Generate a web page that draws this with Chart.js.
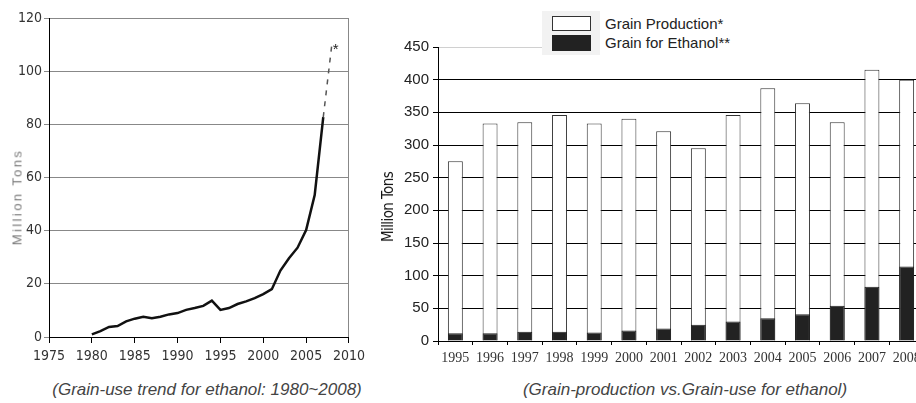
<!DOCTYPE html>
<html>
<head>
<meta charset="utf-8">
<script src="https://cdn.jsdelivr.net/npm/chart.js@4"></script>
<style>
html, body { margin: 0; padding: 0; width: 916px; height: 403px; overflow: hidden; background: #fff; }
.box { position: absolute; }
.rot { position: absolute; white-space: nowrap; transform: translate(-50%, -50%) rotate(-90deg); }
.caption { position: absolute; white-space: nowrap; transform: translate(-50%, -50%);
  font: italic 17px 'Liberation Sans', Arial, sans-serif; color: #444; }
.legend-txt { position: absolute; font: 15px 'Liberation Sans', Arial, sans-serif; color: #222; line-height: 16px; white-space: nowrap; }
</style>
</head>
<body>

<div class="box" style="left:0;top:0;width:370px;height:380px;"><canvas id="trendChart"></canvas></div>
<div class="box" style="left:370px;top:0;width:560px;height:380px;"><canvas id="barChart"></canvas></div>

<!-- axis titles -->
<div class="rot" style="left:17px;top:197px;font:13px 'Liberation Sans',Arial,sans-serif;letter-spacing:2.4px;color:#777;">Million Tons</div>
<div class="rot" style="left:388px;top:207px;font:15px 'DejaVu Sans Condensed','Liberation Sans',Arial,sans-serif;letter-spacing:-0.6px;color:#111;">Million Tons</div>

<!-- legend (right chart) -->
<div class="box" style="left:542px;top:11px;width:58px;height:44px;background:#f2f2f2;"></div>
<div class="box" style="left:600px;top:11px;width:316px;height:44px;background:#fff;"></div>
<div class="box" style="left:552px;top:16px;width:37px;height:13px;background:#fff;border:1px solid #333;"></div>
<div class="box" style="left:552px;top:35px;width:39px;height:16px;background:#222;"></div>
<div class="legend-txt" style="left:605px;top:16px;">Grain Production*</div>
<div class="legend-txt" style="left:605px;top:35px;">Grain for Ethanol**</div>

<div class="caption" style="left:207px;top:390px;">(Grain-use trend for ethanol: 1980~2008)</div>
<div class="caption" style="left:685px;top:390px;">(Grain-production vs.Grain-use for ethanol)</div>

<script>
// ─── Data ────────────────────────────────────────────────────
const trendYears = [1980, 1981, 1982, 1983, 1984, 1985, 1986, 1987, 1988, 1989,
  1990, 1991, 1992, 1993, 1994, 1995, 1996, 1997, 1998, 1999,
  2000, 2001, 2002, 2003, 2004, 2005, 2006, 2007, 2008];
const trendValues = [1, 2.2, 3.8, 4.1, 5.9, 6.9, 7.6, 7.1, 7.6, 8.5,
  9, 10.2, 10.9, 11.7, 13.7, 10.2, 10.9, 12.4, 13.4, 14.6,
  16.1, 18, 25, 29.6, 33.6, 40.2, 53.4, 82.7, 110];

const barYears = ['1995', '1996', '1997', '1998', '1999', '2000', '2001',
  '2002', '2003', '2004', '2005', '2006', '2007', '2008'];
const grainProduction = [275, 333, 335, 346, 333, 340, 321, 295, 346, 387, 364, 335, 415, 400];
const grainForEthanol = [12, 12, 14, 14, 13, 16, 19, 25, 30, 35, 41, 54, 83, 114];

const narrow = "'DejaVu Sans Condensed', 'Liberation Sans Narrow', 'Liberation Sans', sans-serif";

// ─── Left: trend line ────────────────────────────────────────
const starPlugin = {
  id: 'star',
  afterDatasetsDraw(chart) {
    const pts = chart.getDatasetMeta(0).data;
    const p = pts[pts.length - 1];
    const ctx = chart.ctx;
    ctx.save();
    ctx.font = "15px 'Liberation Sans', Arial, sans-serif";
    ctx.fillStyle = '#222';
    ctx.textBaseline = 'top';
    ctx.fillText('*', p.x + 1, p.y - 2);
    ctx.restore();
  }
};

const lastIdx = trendYears.length - 1;

new Chart(document.getElementById('trendChart'), {
  type: 'line',
  data: {
    datasets: [{
      data: trendYears.map((y, i) => ({ x: y, y: trendValues[i] })),
      borderColor: '#111',
      borderWidth: 2.5,
      pointRadius: 0,
      tension: 0,
      segment: {
        borderDash: c => c.p1DataIndex === lastIdx ? [5, 6] : undefined,
        borderColor: c => c.p1DataIndex === lastIdx ? '#555' : undefined,
        borderWidth: c => c.p1DataIndex === lastIdx ? 1.5 : undefined
      }
    }]
  },
  options: {
    responsive: true,
    maintainAspectRatio: false,
    animation: false,
    layout: { padding: { top: 18, right: 15, left: 0, bottom: 0 } },
    plugins: { legend: { display: false }, tooltip: { enabled: false } },
    scales: {
      x: {
        type: 'linear',
        min: 1975,
        max: 2010,
        afterFit: s => { s.height = 43; },
        ticks: { stepSize: 5, color: '#333', font: { family: narrow, size: 14 }, padding: 5,
          callback: v => String(v) },
        grid: {
          drawOnChartArea: true,
          color: c => c.tick && c.tick.value === 2010 ? '#888' : 'rgba(0,0,0,0)',
          tickColor: '#000',
          tickLength: 6
        },
        border: { color: '#000', width: 1 }
      },
      y: {
        min: 0,
        max: 120,
        afterFit: s => { s.width = 49; },
        ticks: { stepSize: 20, color: '#333', font: { family: narrow, size: 14 }, padding: 2 },
        grid: { color: '#888', tickColor: '#888', tickLength: 5 },
        border: { color: '#000', width: 1 }
      }
    }
  },
  plugins: [starPlugin]
});

// ─── Right: production vs ethanol bars ───────────────────────
new Chart(document.getElementById('barChart'), {
  type: 'bar',
  data: {
    labels: barYears,
    datasets: [
      {
        label: 'Grain Production*',
        data: grainProduction,
        backgroundColor: '#fff',
        borderColor: '#333',
        borderWidth: 1,
        grouped: false,
        order: 1
      },
      {
        label: 'Grain for Ethanol**',
        data: grainForEthanol,
        backgroundColor: '#222',
        borderColor: '#222',
        borderWidth: 1,
        grouped: false,
        order: 0
      }
    ]
  },
  options: {
    responsive: true,
    maintainAspectRatio: false,
    animation: false,
    layout: { padding: { top: 47, right: 6, left: 0, bottom: 0 } },
    categoryPercentage: 1,
    barPercentage: 0.43,
    plugins: { legend: { display: false }, tooltip: { enabled: false } },
    scales: {
      x: {
        afterFit: s => { s.height = 39; },
        ticks: { color: '#333', font: { family: "'Liberation Serif', 'Times New Roman', serif", size: 14 }, padding: 5,
          maxRotation: 0, autoSkip: false },
        grid: { offset: true, drawOnChartArea: false, tickColor: '#000', tickLength: 4 },
        border: { color: '#000', width: 1 }
      },
      y: {
        min: 0,
        max: 450,
        afterFit: s => { s.width = 68; },
        ticks: { stepSize: 50, color: '#222', font: { family: "'Liberation Sans', Arial, sans-serif", size: 15 }, padding: 4 },
        grid: {
          color: c => c.tick && c.tick.value === 450 ? '#d0d0d0' : '#000',
          tickColor: '#000',
          tickLength: 5
        },
        border: { color: '#000', width: 1 }
      }
    }
  }
});
</script>
</body>
</html>
